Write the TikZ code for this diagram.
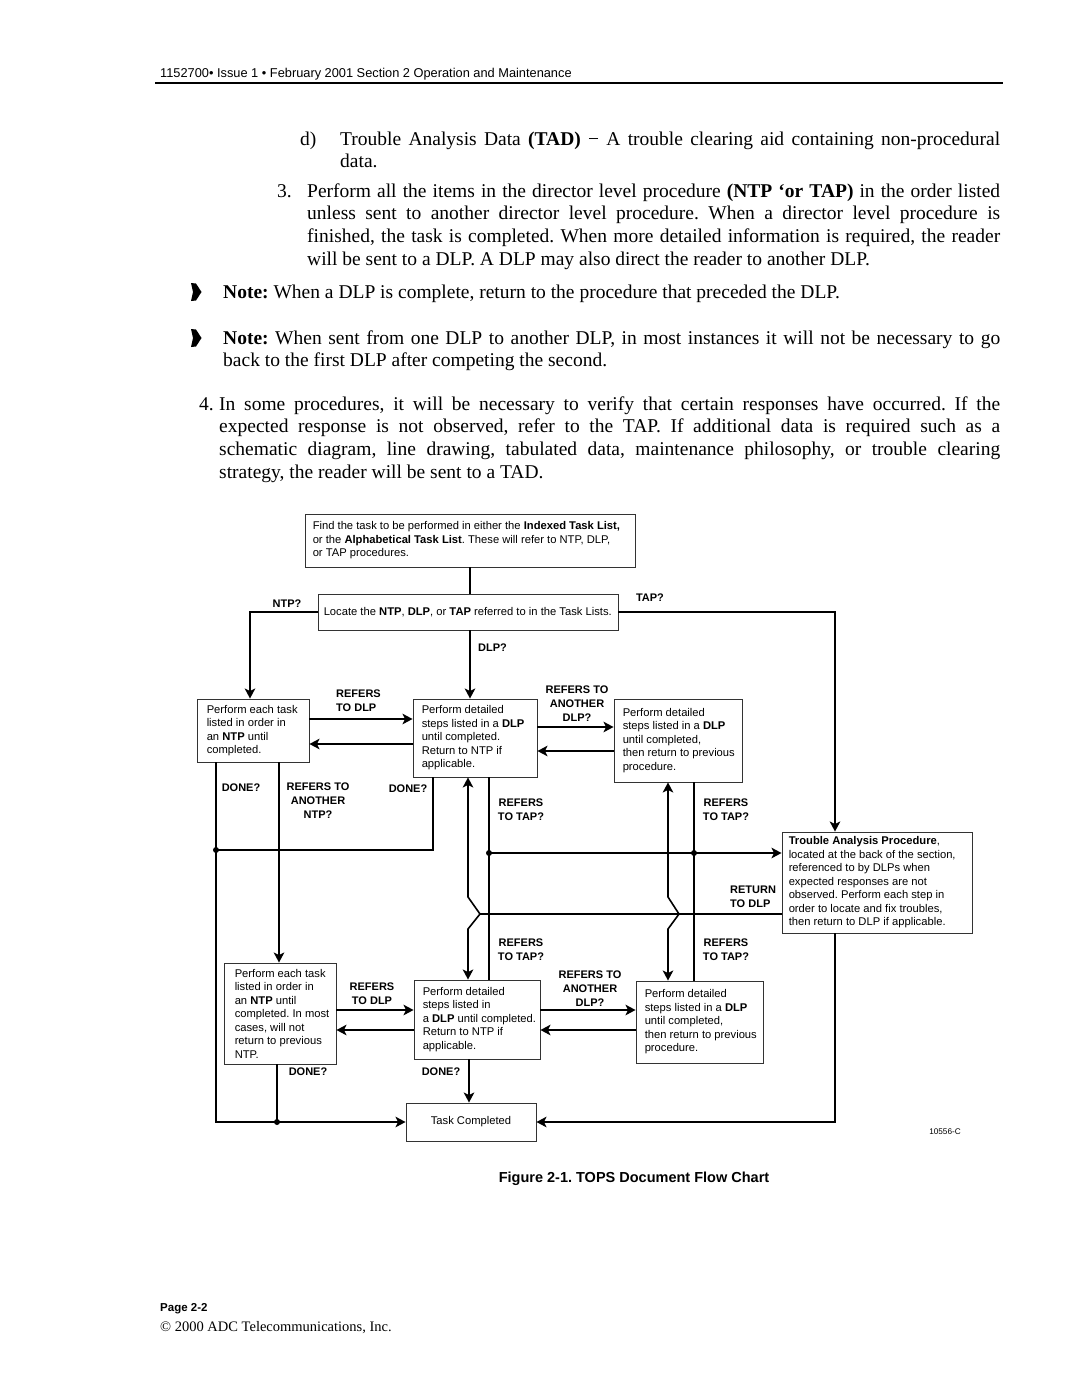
\documentclass[tikz,border=0pt]{standalone}
\usepackage{fontspec}
\setmainfont{Liberation Serif}
\newfontfamily\dsans{Liberation Sans}
\usetikzlibrary{arrows.meta}
\frenchspacing
\begin{document}
\begin{tikzpicture}[x=1pt,y=-1pt,
  box/.style={draw=black!80, line width=0.9pt, inner sep=0pt},
  btxt/.style={font=\dsans\fontsize{11.2}{13.5}\selectfont, align=left, inner sep=0pt, anchor=west},
  lab/.style={font=\dsans\bfseries\fontsize{11}{14}\selectfont, align=center, inner sep=0pt},
  conn/.style={line width=1.6pt},
  arr/.style={conn, -{Stealth[length=10pt,width=10.5pt,inset=2.5pt]}},
  jdot/.style={circle, fill=black, inner sep=0pt, minimum size=6pt},
  bodyf/.style={inner sep=0pt, font=\fontsize{19.5}{22.7}\selectfont},
  body/.style={bodyf, anchor=north west, align=justify},
]
\fill[white] (0,0) rectangle (1080,1397);
\useasboundingbox (0,0) rectangle (1080,1397);

% ---------- page text ----------
\node[anchor=base west, inner sep=0pt, font=\dsans\fontsize{12.8}{14}\selectfont] (hdr) at (160,77.5)
  {1152700• Issue 1 • February 2001 Section 2 Operation and Maintenance};
\draw[line width=1.2pt] (155,83) -- (1003,83);

\node[bodyf, anchor=base west] (dlab) at (300,145) {d)};
\node[body, text width=660pt] (dpar) at (340,129.1)
  {\strut Trouble Analysis Data \textbf{(TAD)} − A trouble clearing aid containing non-procedural\linebreak data.};

\node[bodyf, anchor=base west] (n3) at (277,197) {3.};
\node[body, text width=693pt] (p3) at (307,181.1)
  {\strut Perform all the items in the director level procedure \textbf{(NTP ‘or TAP)} in the order listed\linebreak
   unless sent to another director level procedure. When a director level procedure is\linebreak
   finished, the task is completed. When more detailed information is required, the reader\linebreak
   will be sent to a DLP. A DLP may also direct the reader to another DLP.};

\fill (191,283) -- (196,283.5) -- (201.5,292) -- (196,300.5) -- (191,301) -- (193,292) -- cycle;
\node[bodyf, anchor=base west] (note1) at (223,298)
  {\textbf{Note:} When a DLP is complete, return to the procedure that preceded the DLP.};

\fill (191,329) -- (196,329.5) -- (201.5,338) -- (196,346.5) -- (191,347) -- (193,338) -- cycle;
\node[body, text width=777pt] (note2) at (223,328.1)
  {\strut\textbf{Note:} When sent from one DLP to another DLP, in most instances it will not be necessary to go\linebreak
   back to the first DLP after competing the second.};

\node[bodyf, anchor=base west] (n4) at (199,410) {4.};
\node[body, text width=781pt] (p4) at (219,394.1)
  {\strut In some procedures, it will be necessary to verify that certain responses have occurred. If the\linebreak
   expected response is not observed, refer to the TAP. If additional data is required such as a\linebreak
   schematic diagram, line drawing, tabulated data, maintenance philosophy, or trouble clearing\linebreak
   strategy, the reader will be sent to a TAD.};

\node[anchor=base, inner sep=0pt, font=\dsans\bfseries\fontsize{14.5}{16}\selectfont] (cap) at (634,1182)
  {Figure 2-1. TOPS Document Flow Chart};
\node[anchor=base west, inner sep=0pt, font=\dsans\bfseries\fontsize{11.5}{13}\selectfont] (pg) at (160,1311) {Page 2-2};
\node[anchor=base west, inner sep=0pt, font=\fontsize{14.5}{16}\selectfont] (copy) at (160,1331) {© 2000 ADC Telecommunications, Inc.};

% ---------- boxes ----------
\node[box, minimum width=330pt, minimum height=53pt] (find) at (470,540.5) {};
\node[btxt] (findt) at ([xshift=8pt]find.west)
  {Find the task to be performed in either the \textbf{Indexed Task List,}\\or the \textbf{Alphabetical Task List}. These will refer to NTP, DLP,\\or TAP procedures.};

\node[box, minimum width=300pt, minimum height=36pt] (locate) at (468,612) {};
\node[btxt] (locatet) at ([xshift=6pt]locate.west)
  {Locate the \textbf{NTP}, \textbf{DLP}, or \textbf{TAP} referred to in the Task Lists.};

\node[box, minimum width=112pt, minimum height=63pt] (ntp1) at (253,730.5) {};
\node[btxt] (ntp1t) at ([xshift=10pt]ntp1.west)
  {Perform each task\\listed in order in\\an \textbf{NTP} until\\completed.};

\node[box, minimum width=124pt, minimum height=78pt] (dlp1) at (475,738) {};
\node[btxt] (dlp1t) at ([xshift=9pt]dlp1.west)
  {Perform detailed\\steps listed in a \textbf{DLP}\\until completed.\\Return to NTP if\\applicable.};

\node[box, minimum width=128pt, minimum height=83pt] (dlp2) at (678,740.5) {};
\node[btxt] (dlp2t) at ([xshift=9pt]dlp2.west)
  {Perform detailed\\steps listed in a \textbf{DLP}\\until completed,\\then return to previous\\procedure.};

\node[box, minimum width=190pt, minimum height=101pt] (tap) at (877,882.5) {};
\node[btxt] (tapt) at ([xshift=7pt]tap.west)
  {\textbf{Trouble Analysis Procedure},\\located at the back of the section,\\referenced to by DLPs when\\expected responses are not\\observed. Perform each step in\\order to locate and fix troubles,\\then return to DLP if applicable.};

\node[box, minimum width=112pt, minimum height=101pt] (ntp2) at (280,1013.5) {};
\node[btxt] (ntp2t) at ([xshift=11pt]ntp2.west)
  {Perform each task\\listed in order in\\an \textbf{NTP} until\\completed. In most\\cases, will not\\return to previous\\NTP.};

\node[box, minimum width=126pt, minimum height=79pt] (dlp3) at (477,1019.5) {};
\node[btxt] (dlp3t) at ([xshift=9pt]dlp3.west)
  {Perform detailed\\steps listed in\\a \textbf{DLP} until completed.\\Return to NTP if\\applicable.};

\node[box, minimum width=127pt, minimum height=82pt] (dlp4) at (699.5,1022) {};
\node[btxt] (dlp4t) at ([xshift=9pt]dlp4.west)
  {Perform detailed\\steps listed in a \textbf{DLP}\\until completed,\\then return to previous\\procedure.};

\node[box, minimum width=130pt, minimum height=38pt, font=\dsans\fontsize{11.2}{13.5}\selectfont] (done) at (471,1122) {Task Completed};

% ---------- junctions ----------
\node[jdot] (j1) at (216,850) {};
\node[jdot] (j2) at (489,853) {};
\node[jdot] (j3) at (694,853) {};
\coordinate (k1) at (480,914);
\coordinate (k2) at (679,914);

% ---------- connectors ----------
\draw[conn] (find.south) -- (find.south |- locate.north);
\draw[arr] (locate.west) -| ([xshift=-3pt]ntp1.north);
\draw[arr] (find.south |- locate.south) -- (find.south |- dlp1.north);
\draw[arr] (locate.east) -| ([xshift=-42pt]tap.north);

\coordinate (n1r1) at ([yshift=11.5pt]ntp1.east);
\coordinate (d1l2) at ([yshift=-6pt]dlp1.west);
\coordinate (d1r1) at ([yshift=11pt]dlp1.east);
\coordinate (d1r2) at ([yshift=-13pt]dlp1.east);
\draw[arr] (n1r1) -- (n1r1 -| dlp1.west);
\draw[arr] (d1l2) -- (d1l2 -| ntp1.east);
\draw[arr] (d1r1) -- (d1r1 -| dlp2.west);
\draw[arr] (d1r2 -| dlp2.west) -- (d1r2);

\coordinate (n1b1) at ([xshift=-37pt]ntp1.south);
\draw[arr] (n1b1) |- (done.west);
\coordinate (d1b1) at ([xshift=-42pt]dlp1.south);
\draw[conn] (d1b1) |- (j1.center);
\coordinate (n1b2) at ([xshift=26pt]ntp1.south);
\draw[arr] (n1b2) -- (n1b2 |- ntp2.north);

\coordinate (d1b2) at ([xshift=14pt]dlp1.south);
\draw[conn] (d1b2) -- (d1b2 |- dlp3.north);
\coordinate (d2b2) at ([xshift=16pt]dlp2.south);
\draw[conn] (d2b2) -- (d2b2 |- dlp4.north);
\draw[arr] (j2.center) -- (j2.center -| tap.west);

\coordinate (tr) at ([yshift=-31.5pt]tap.west);
\draw[conn] (tr) -- (k1);
\draw[arr] (k1) -- ++(-12,-17) -- ([xshift=-7pt]dlp1.south);
\draw[arr] (k1) -- ++(-12,15) -- ([xshift=-9pt]dlp3.north);
\draw[arr] (k2) -- ++(-11,-17) -- ([xshift=-10pt]dlp2.south);
\draw[arr] (k2) -- ++(-11,15) -- ([xshift=-31.5pt]dlp4.north);

\coordinate (n2b) at ([xshift=-3pt]ntp2.south);
\node[jdot] (j4) at (n2b |- done.west) {};
\draw[conn] (n2b) -- (j4.center);
\coordinate (d3b) at ([xshift=-8pt]dlp3.south);
\draw[arr] (d3b) -- (d3b |- done.north);

\coordinate (n2r1) at ([yshift=3.5pt]ntp2.east);
\coordinate (n2r2) at ([yshift=-16.5pt]ntp2.east);
\draw[arr] (n2r1) -- (n2r1 -| dlp3.west);
\draw[arr] (n2r2 -| dlp3.west) -- (n2r2);
\coordinate (d3r1) at ([yshift=9.5pt]dlp3.east);
\coordinate (d3r2) at ([yshift=-10.5pt]dlp3.east);
\draw[arr] (d3r1) -- (d3r1 -| dlp4.west);
\draw[arr] (d3r2 -| dlp4.west) -- (d3r2);

\draw[arr] ([xshift=-42pt]tap.south) |- (done.east);

% ---------- labels ----------
\node[lab] (lntp) at (287,604) {NTP?};
\node[lab] (ltap) at (650,598) {TAP?};
\node[lab, anchor=west] (ldlp) at (478,648) {DLP?};
\node[lab, align=left, anchor=west] (lrd1) at (336,701) {REFERS\\TO DLP};
\node[lab] (lra1) at (577,704) {REFERS TO\\ANOTHER\\DLP?};
\node[lab] (ldn1) at (241,788) {DONE?};
\node[lab] (lrn) at (318,801) {REFERS TO\\ANOTHER\\NTP?};
\node[lab] (ldn2) at (408,789) {DONE?};
\node[lab] (lrt1) at (521,810) {REFERS\\TO TAP?};
\node[lab] (lrt2) at (726,810) {REFERS\\TO TAP?};
\node[lab] (lrt3) at (521,950) {REFERS\\TO TAP?};
\node[lab] (lrt4) at (726,950) {REFERS\\TO TAP?};
\node[lab, align=left, anchor=west] (lret) at (730,897) {RETURN\\TO DLP};
\node[lab] (lrd2) at (372,994) {REFERS\\TO DLP};
\node[lab] (lra2) at (590,988.5) {REFERS TO\\ANOTHER\\DLP?};
\node[lab] (ldn3) at (308,1072) {DONE?};
\node[lab] (ldn4) at (441,1072) {DONE?};
\node[inner sep=0pt, font=\dsans\fontsize{8.2}{10}\selectfont] (fid) at (945,1132) {10556-C};
\end{tikzpicture}
\end{document}
